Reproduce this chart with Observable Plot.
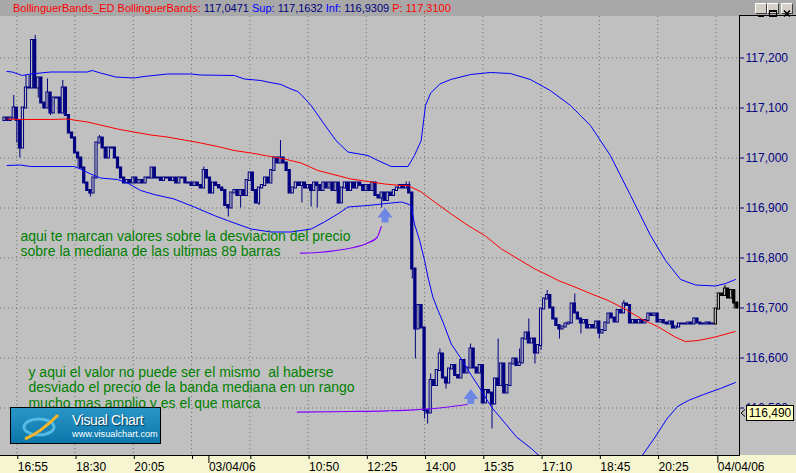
<!DOCTYPE html>
<html><head><meta charset="utf-8">
<script src="https://cdn.jsdelivr.net/npm/d3@7"></script>
<script src="https://cdn.jsdelivr.net/npm/@observablehq/plot@0.6"></script>
<style>
html,body{margin:0;padding:0;background:#c0c0c0;}
#wrap{position:relative;width:796px;height:473px;overflow:hidden;font-family:"Liberation Sans",Arial,sans-serif;background:#c0c0c0;}
#titlebar{position:absolute;left:0;top:0;width:796px;height:16px;background:#a8a8a8;}
#titleText{position:absolute;left:13px;top:2px;font-size:11px;line-height:12px;white-space:nowrap;}
.btn{position:absolute;top:3px;width:10px;height:9px;background:#d4d0c8;border-top:1px solid #fff;border-left:1px solid #fff;border-right:1px solid #404040;border-bottom:1px solid #404040;}
#xband{position:absolute;left:0;top:455px;width:796px;height:18px;background:#f5f5d2;}
#rtop{position:absolute;left:739px;top:15px;width:57px;height:1px;background:#000;}
#chart{position:absolute;left:0;top:16px;}
#logo{position:absolute;left:10px;top:407px;width:149px;height:35px;border:1px solid #000;background:linear-gradient(to bottom,#2996c8,#0b76aa);overflow:hidden;}
#logo .t1{position:absolute;left:61px;top:4px;font-size:14px;letter-spacing:-0.4px;color:#fff;text-shadow:1px 1px 1px #00344f;white-space:nowrap;}
#logo .t2{position:absolute;left:61px;top:21px;font-size:9.2px;color:#fff;white-space:nowrap;}
#tag{position:absolute;left:746px;width:46px;height:14px;background:#ffffc0;border:1px solid #000;font-size:12px;line-height:14px;text-align:center;color:#000;}
#tagArrow{position:absolute;left:740px;}
</style></head>
<body><div id="wrap">
<div id="titlebar">
<div id="titleText"><span style="color:#ff0000">BollinguerBands_ED BollinguerBands:</span> <span style="color:#000080">117,0471</span> <span style="color:#0000ff">Sup:</span> <span style="color:#000080">117,1632</span> <span style="color:#0000ff">Inf:</span> <span style="color:#000080">116,9309</span> <span style="color:#ff0000">P: 117,3100</span></div>
<div class="btn" style="left:755px"><svg width="10" height="9"><rect x="2" y="6" width="6" height="2" fill="#000"/></svg></div>
<div class="btn" style="left:767px"><svg width="10" height="9"><rect x="1.5" y="1.5" width="7" height="6" fill="none" stroke="#000"/><rect x="1" y="1" width="8" height="2" fill="#000"/></svg></div>
<div class="btn" style="left:781px"><svg width="10" height="9"><path d="M2,1.5L8,7.5M8,1.5L2,7.5" stroke="#000" stroke-width="1.6"/></svg></div>
</div>
<div id="xband"></div>
<div id="rtop"></div>
<div id="chart"></div>
<div id="logo">
<svg width="60" height="35" style="position:absolute;left:0;top:0">
<ellipse cx="28" cy="19" rx="15" ry="8" fill="none" stroke="#62c3ec" stroke-width="3" opacity="0.85"/>
<path d="M14,31 C26,26 36,18 47,7" fill="none" stroke="#f7b52a" stroke-width="3"/>
</svg>
<div class="t1">Visual Chart</div>
<div class="t2">www.visualchart.com</div>
</div>
<div id="tag">116,490</div>
<svg id="tagArrow" width="6" height="8"><path d="M5,0.5L1,4L5,7.5" fill="none" stroke="#000"/></svg>
</div>
<script>
// ---- data ----
const firstOpen = 117.075;
const close = [
117.080,117.075,117.080,117.100,117.075,117.020,117.100,117.140,117.140,117.235,
117.140,117.160,117.110,117.100,117.130,117.090,117.120,117.120,117.090,117.140,
117.085,117.050,117.040,117.010,117.000,116.980,116.950,116.935,116.930,116.960,
117.030,117.040,117.020,117.000,117.020,117.020,117.000,116.980,116.960,116.950,
116.955,116.950,116.960,116.950,116.955,116.950,116.960,116.960,116.980,116.960,
116.960,116.955,116.960,116.960,116.955,116.960,116.950,116.960,116.960,116.950,
116.950,116.945,116.950,116.945,116.940,116.975,116.960,116.930,116.950,116.945,
116.940,116.935,116.905,116.900,116.930,116.935,116.925,116.935,116.925,116.955,
116.970,116.935,116.910,116.940,116.945,116.960,116.950,116.975,117.000,116.990,
117.000,116.990,116.975,116.930,116.940,116.950,116.945,116.950,116.940,116.945,
116.935,116.950,116.945,116.935,116.950,116.940,116.950,116.935,116.950,116.910,
116.940,116.950,116.935,116.950,116.940,116.950,116.945,116.935,116.945,116.935,
116.950,116.925,116.920,116.930,116.915,116.930,116.925,116.935,116.940,116.945,
116.940,116.945,116.930,116.778,116.658,116.705,116.660,116.495,116.490,116.555,
116.545,116.575,116.608,116.560,116.550,116.578,116.585,116.565,116.560,116.595,
116.570,116.580,116.618,116.580,116.570,116.585,116.510,116.535,116.530,116.508,
116.558,116.545,116.588,116.530,116.545,116.588,116.598,116.585,116.590,116.638,
116.650,116.630,116.638,116.610,116.625,116.698,116.718,116.725,116.700,116.678,
116.665,116.658,116.662,116.668,116.670,116.708,116.690,116.678,116.670,116.675,
116.660,116.665,116.660,116.672,116.650,116.655,116.670,116.688,116.680,116.672,
116.695,116.690,116.708,116.705,116.670,116.675,116.670,116.675,116.670,116.675,
116.688,116.685,116.688,116.672,116.675,116.670,116.668,116.672,116.660,116.662,
116.668,116.668,116.668,116.670,116.668,116.678,116.670,116.668,116.668,116.670,
116.668,116.668,116.698,116.728,116.725,116.738,116.720,116.735,116.710,116.700
];
const wickHigh = [[3,117.125],[7,117.165],[8,117.165],[10,117.245],[11,117.158],[14,117.158],[19,117.155],
[31,117.045],[65,116.982],[90,117.035],[131,116.952],[132,116.952],[139,116.568],[142,116.618],[152,116.628],
[161,116.638],[168,116.618],[171,116.678],[177,116.735],[186,116.728],[202,116.715],[225,116.680],[235,116.745]];
const wickLow = [[4,117.030],[5,117.000],[11,117.120],[15,117.085],[24,116.980],[28,116.922],[73,116.882],[77,116.900],
[83,116.905],[97,116.910],[100,116.902],[102,116.900],[123,116.900],[133,116.758],[134,116.598],[137,116.478],
[138,116.468],[144,116.538],[159,116.458],[173,116.588],[175,116.615],[181,116.638],[188,116.648],[194,116.638],
[232,116.668],[238,116.698]];
const lastSessionStart = 232;

const upperBand = [[0.8,117.173],[2.5,117.172],[5.8,117.165],[8.5,117.168],[15,117.172],[19.4,117.172],[27,117.172],
[28.6,117.175],[31.3,117.170],[36.3,117.162],[42.2,117.160],[45.5,117.163],[53.1,117.168],[60.8,117.168],[64,117.166],
[75,117.165],[78.2,117.158],[83.6,117.155],[85.8,117.152],[90.2,117.147],[93.4,117.138],[95.6,117.133],[96.7,117.127],
[100,117.105],[104,117.070],[108.1,117.035],[112,117.012],[118.5,117.005],[121.8,116.995],[126.1,116.983],
[131.6,116.983],[133.7,117.005],[135.9,117.035],[137.3,117.105],[139,117.130],[142,117.148],[145.5,117.157],
[152,117.167],[158.5,117.171],[165,117.169],[171.5,117.157],[178,117.135],[184.6,117.105],[191.1,117.065],
[197.6,117.005],[204.2,116.925],[210.7,116.845],[215.6,116.795],[220.5,116.757],[225.4,116.746],[231.9,116.744],
[235.2,116.749],[238.4,116.757]];
const middleBand = [[0.85,117.078],[5.2,117.077],[15,117.077],[20.5,117.078],[22.6,117.076],[27,117.072],[31.3,117.066],
[36.8,117.058],[42.2,117.052],[47.7,117.046],[53.1,117.042],[58.6,117.036],[64,117.030],[69.5,117.023],[74.9,117.015],
[80.4,117.010],[85.8,117.004],[91.3,116.998],[96.7,116.990],[102.2,116.975],[113,116.958],[124,116.948],[129.4,116.945],
[131.6,116.945],[135.9,116.932],[140.3,116.912],[145.7,116.888],[151.2,116.865],[156.6,116.845],[162.1,116.818],
[167.5,116.798],[173,116.778],[178.4,116.762],[180.6,116.755],[186,116.742],[191.5,116.728],[196.9,116.715],
[202.4,116.698],[207.8,116.678],[213.3,116.662],[218.7,116.642],[222,116.633],[226.3,116.635],[231.8,116.642],[238.3,116.653]];
const lowerBand = [[0.85,116.985],[5.2,116.986],[8.5,116.983],[22.7,116.983],[24.8,116.978],[28.1,116.968],[31.3,116.960],
[36.8,116.957],[40.1,116.950],[44.4,116.935],[48.8,116.927],[55.3,116.918],[61.9,116.902],[68.4,116.885],[72.7,116.875],
[80.4,116.858],[86.9,116.852],[93.4,116.852],[100,116.858],[104.3,116.872],[108.7,116.888],[112,116.902],[118.5,116.905],
[126.1,116.910],[129.4,116.912],[131.6,116.908],[132.6,116.905],[133.7,116.868],[135.4,116.835],[137,116.795],
[138.1,116.762],[139.7,116.722],[141.4,116.695],[143,116.672],[145.7,116.628],[149,116.598],[152.3,116.565],
[155.5,116.535],[158.8,116.502],[162.1,116.478],[167,116.442],[172,116.418],[176,116.395],[null,null],
[205,116.395],[208,116.405],[212,116.440],[216,116.478],[219.5,116.503],[223,116.515],[228,116.527],
[233.5,116.539],[238.4,116.551]];

const yTicks = [116.5,116.6,116.7,116.8,116.9,117.0,117.1,117.2];
const xTickIdx = [4,23,42,61,80,99,118,137,156,175,194,213];
const xTickLabels = ["16:55","18:30","20:05","","","10:50","12:25","14:00","15:35","17:10","18:45","20:25"];
const dateTickIdx = [66,232];
const dateTickLabels = ["03/04/06","04/04/06"];
const priceMarker = 116.490;

const note1 = "aqui te marcan valores sobre la desviacion del precio\nsobre la mediana de las ultimas 89 barras";
const note2 = "y aqui el valor no puede ser el mismo  al haberse\ndesviado el precio de la banda mediana en un rango\nmucho mas amplio y es el que marca";
const note1Anchor = [5.2, 116.856];
const note2Anchor = [7.8, 116.584];
const connector1 = [[96.5,116.8096],[102,116.811],[107.3,116.8144],[113.8,116.821],[118.3,116.8296],[121.5,116.841],[122.6,116.8576],[122.9,116.863]];
const connector2 = [[95.45,116.4916],[112.8,116.493],[124.8,116.4944],[133.5,116.4964],[143.3,116.501],[150.9,116.507]];
const arrowPoints = [[124.1,116.886],[152.1,116.523]];

// ---- build ----
const NAVY = "#000080";
const bars = close.map((c, i) => {
  const o = i === 0 ? firstOpen : close[i - 1];
  return {i, o, c, h: Math.max(o, c), l: Math.min(o, c)};
});
for (const [i, v] of wickHigh) bars[i].h = Math.max(bars[i].h, v);
for (const [i, v] of wickLow) bars[i].l = Math.min(bars[i].l, v);
const early = bars.filter(d => d.i < lastSessionStart);
const late = bars.filter(d => d.i >= lastSessionStart);
const toPts = arr => arr.map(([i, v]) => ({i, v}));
const fmt = d => d3.format(".3f")(d).replace(".", ",");

const blockArrow = {
  draw(ctx, size) {
    const r = Math.sqrt(size / Math.PI);
    ctx.moveTo(0, -r);
    ctx.lineTo(0.98 * r, 0.32 * r);
    ctx.lineTo(0.45 * r, 0.32 * r);
    ctx.lineTo(0.45 * r, r);
    ctx.lineTo(-0.45 * r, r);
    ctx.lineTo(-0.45 * r, 0.32 * r);
    ctx.lineTo(-0.98 * r, 0.32 * r);
    ctx.closePath();
  }
};

function candleMarks(data, color) {
  return [
    Plot.ruleX(data, {x: "i", y1: "l", y2: "h", stroke: color, strokeWidth: 1}),
    Plot.rect(data, {x1: d => d.i - 0.36, x2: d => d.i + 0.36, y1: "o", y2: "c",
      fill: d => d.c > d.o ? "#c0c0c0" : color, stroke: color, strokeWidth: 1,
      insetTop: -0.5, insetBottom: -0.5})
  ];
}

const plot = Plot.plot({
  width: 796, height: 457,
  marginTop: 0, marginLeft: 0, marginRight: 57, marginBottom: 18,
  style: {background: "transparent", fontFamily: "'Liberation Sans', Arial, sans-serif", overflow: "visible"},
  x: {type: "linear", domain: [-1.318, 239.72], axis: null, label: null},
  y: {domain: [116.405, 117.283], axis: null, label: null},
  marks: [
    Plot.ruleY(yTicks, {stroke: "#707070", strokeDasharray: "1,3"}),
    Plot.ruleX(xTickIdx.concat([232]), {stroke: "#707070", strokeDasharray: "1,3"}),
    ...candleMarks(early, NAVY),
    ...candleMarks(late, "#000000"),
    Plot.line(toPts(middleBand), {x: "i", y: "v", stroke: "#ff0000", strokeWidth: 1, clip: true}),
    Plot.line(toPts(upperBand), {x: "i", y: "v", stroke: "#0000ff", strokeWidth: 1, clip: true}),
    Plot.line(toPts(lowerBand), {x: "i", y: "v", stroke: "#0000ff", strokeWidth: 1, clip: true}),
    Plot.line(toPts(connector1), {x: "i", y: "v", stroke: "#8000ff", strokeWidth: 1.2, curve: "monotone-x"}),
    Plot.line(toPts(connector2), {x: "i", y: "v", stroke: "#8000ff", strokeWidth: 1.2, curve: "monotone-x"}),
    Plot.dot(toPts(arrowPoints), {x: "i", y: "v", r: 7.6, symbol: blockArrow, fill: "#6f87e4", stroke: "none"}),
    Plot.text([note1], {x: note1Anchor[0], y: note1Anchor[1], text: d => d, textAnchor: "start", lineAnchor: "top",
      fill: "#008000", fontSize: 14, lineHeight: 1.086}),
    Plot.text([note2], {x: note2Anchor[0], y: note2Anchor[1], text: d => d, textAnchor: "start", lineAnchor: "top",
      fill: "#008000", fontSize: 14, lineHeight: 1.1}),
    Plot.axisY(yTicks, {anchor: "right", label: null, tickSize: 4, tickPadding: 2, tickFormat: fmt,
      fill: NAVY, stroke: NAVY, fontSize: 12, textAnchor: "start"}),
    Plot.axisX(xTickIdx, {anchor: "bottom", label: null, tickSize: 4, tickPadding: 3, fontSize: 12, fill: "#000", stroke: "#000",
      textAnchor: "start", dx: 1, tickFormat: d => xTickLabels[xTickIdx.indexOf(d)]}),
    Plot.axisX(dateTickIdx, {anchor: "bottom", label: null, tickSize: 8, tickPadding: -1, fontSize: 12, fill: "#000", stroke: "#000",
      textAnchor: "start", dx: 2, tickFormat: d => dateTickLabels[dateTickIdx.indexOf(d)]}),
    Plot.frame({anchor: "bottom", stroke: "#000"}),
    Plot.frame({anchor: "right", stroke: "#000"})
  ]
});
document.getElementById("chart").appendChild(plot);
const yPx = plot.scale("y").apply(priceMarker) + 16;
document.getElementById("tag").style.top = (yPx - 8) + "px";
document.getElementById("tagArrow").style.top = (yPx - 4) + "px";
</script>
</body></html>
